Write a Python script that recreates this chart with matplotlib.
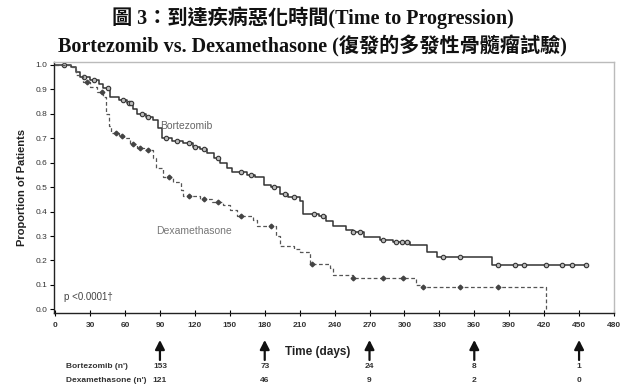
import numpy as np
import matplotlib
matplotlib.use("Agg")
import matplotlib.pyplot as plt
import matplotlib.transforms as mtrans

# ---------------- data ----------------
bort_t = [0, 14, 18, 21, 30, 38, 41, 47, 55, 62, 67, 70, 78, 84, 88, 92, 100, 110, 118, 124,
          130, 136, 142, 148, 152, 165, 172, 179, 185, 193, 200, 210, 213, 227, 233, 239,
          250, 256, 265, 279, 290, 305, 319, 328, 375, 456]
bort_s = [1.0, 0.99, 0.97, 0.95, 0.94, 0.92, 0.905, 0.87, 0.855, 0.845, 0.82, 0.80, 0.785,
          0.775, 0.74, 0.70, 0.69, 0.68, 0.665, 0.655, 0.64, 0.62, 0.60, 0.58, 0.56, 0.55,
          0.54, 0.51, 0.50, 0.47, 0.46, 0.445, 0.39, 0.38, 0.36, 0.34, 0.325, 0.315, 0.295,
          0.285, 0.275, 0.265, 0.235, 0.215, 0.18, 0.18]
bort_cens = [8, 25, 33, 45, 58, 63, 65, 75, 80, 95, 105, 115, 120, 128, 140, 160, 168,
             188, 197, 205, 222, 230, 256, 262, 282, 293, 298, 302, 333, 348, 380, 395,
             403, 422, 435, 444, 456]

dexa_t = [0, 14, 18, 24, 30, 36, 41, 44, 46, 48, 55, 59, 64, 70, 76, 84, 87, 93, 101, 108,
          110, 124, 135, 144, 150, 156, 170, 173, 190, 193, 205, 210, 219, 236, 239, 256,
          310, 313, 422, 422]
dexa_s = [1.0, 0.99, 0.96, 0.93, 0.91, 0.89, 0.87, 0.80, 0.75, 0.72, 0.71, 0.70, 0.675,
          0.66, 0.65, 0.62, 0.58, 0.54, 0.52, 0.49, 0.465, 0.453, 0.44, 0.425, 0.405, 0.38,
          0.365, 0.34, 0.30, 0.26, 0.245, 0.235, 0.185, 0.17, 0.14, 0.13, 0.10, 0.09, 0.0, 0.0]
dexa_cens = [27, 40, 52, 57, 67, 73, 80, 98, 115, 128, 140, 160, 185, 221, 256, 282,
             299, 316, 348, 380]

xticks = [0, 30, 60, 90, 120, 150, 180, 210, 240, 270, 300, 330, 360, 390, 420, 450, 480]
yticks = [0.0, 0.1, 0.2, 0.3, 0.4, 0.5, 0.6, 0.7, 0.8, 0.9, 1.0]

risk_days = [90, 180, 270, 360, 450]
risk_bort = [153, 73, 24, 8, 1]
risk_dexa = [121, 46, 9, 2, 0]

title1 = "圖 3：到達疾病惡化時間(Time to Progression)"
title2 = "Bortezomib vs. Dexamethasone (復發的多發性骨髓瘤試驗)"

# ---------------- figure ----------------
W, H = 625, 389
fig = plt.figure(figsize=(W / 100, H / 100), dpi=100)
ax = fig.add_axes([54 / W, 1 - 313 / H, (614 - 54) / W, (313 - 62) / H])

sans = ["Liberation Sans", "DejaVu Sans"]
title_font = ["Liberation Serif", "Noto Sans CJK TC", "DejaVu Sans"]

def surv_at(t_list, s_list, t):
    i = np.searchsorted(np.array(t_list), t, side="right") - 1
    return s_list[max(i, 0)]

col = "#333333"
ax.step(bort_t, bort_s, where="post", color=col, lw=1.1)
ax.plot(bort_cens, [surv_at(bort_t, bort_s, c) for c in bort_cens], "o",
        ms=3.2, mfc="#bbbbbb", mec=col, mew=0.8, ls="none")

ax.step(dexa_t, dexa_s, where="post", color="#555555", lw=0.9, ls=(0, (3, 2)))
ax.plot(dexa_cens, [surv_at(dexa_t, dexa_s, c) for c in dexa_cens], "D",
        ms=2.4, color="#444444", ls="none")

ax.set_xlim(-1, 480)
ax.set_ylim(-0.015, 1.012)
ax.set_xticks(xticks)
ax.set_xticklabels([str(v) for v in xticks], fontsize=6, family=sans,
                   fontweight="bold", color="#333333")
ax.set_yticks(yticks)
ax.set_yticklabels([f"{v:.1f}" for v in yticks], fontsize=6, family=sans,
                   color="#333333")
ax.tick_params(axis="x", direction="inout", length=5, width=0.8, pad=4)
ax.tick_params(axis="y", direction="out", length=3, width=0.8, pad=2)

for s in ["left", "bottom"]:
    ax.spines[s].set_color("#222222")
    ax.spines[s].set_linewidth(1.0)
for s in ["top", "right"]:
    ax.spines[s].set_color("#bbbbbb")
    ax.spines[s].set_linewidth(1.0)

ax.set_ylabel("Proportion of Patients", fontsize=8, fontweight="bold",
              family=sans, color="#222222", labelpad=6)

ax.text(90, 0.75, "Bortezomib", fontsize=7.5, family=sans, color="#666666",
        va="center", ha="left")
ax.text(87, 0.32, "Dexamethasone", fontsize=7.5, family=sans, color="#777777",
        va="center", ha="left")
ax.text(8, 0.05, "p <0.0001\u2020", fontsize=7, family=sans, color="#444444",
        va="center", ha="left")

# x label
fig.text(318 / W, 1 - 352 / H, "Time (days)", fontsize=8.5, fontweight="bold",
         family=sans, ha="center", va="center", color="#222222")

blend = mtrans.blended_transform_factory(ax.transData, fig.transFigure)

# arrows
for d in risk_days:
    ax.annotate("", xy=(d, 1 - 340 / H), xytext=(d, 1 - 360 / H),
                xycoords=blend, textcoords=blend,
                arrowprops=dict(arrowstyle="-|>,head_length=0.55,head_width=0.28",
                                lw=1.6, color="#111111", shrinkA=0, shrinkB=0),
                annotation_clip=False)

# number at risk
fig.text(66 / W, 1 - 367 / H, "Bortezomib (n')", fontsize=6, family=sans,
         ha="left", va="center", color="#333333", fontweight="bold")
fig.text(66 / W, 1 - 381 / H, "Dexamethasone (n')", fontsize=6, family=sans,
         ha="left", va="center", color="#333333", fontweight="bold")
for d, b, x in zip(risk_days, risk_bort, risk_dexa):
    ax.text(d, 1 - 367 / H, str(b), transform=blend, fontsize=6, family=sans,
            ha="center", va="center", color="#333333", fontweight="bold")
    ax.text(d, 1 - 381 / H, str(x), transform=blend, fontsize=6, family=sans,
            ha="center", va="center", color="#333333", fontweight="bold")

# titles
fig.text(0.5, 1 - 18 / H, title1, fontsize=14.5, fontweight="bold", family=title_font,
         ha="center", va="center", color="#111111")
fig.text(0.5, 1 - 46 / H, title2, fontsize=14.5, fontweight="bold", family=title_font,
         ha="center", va="center", color="#111111")

fig.savefig("out.png", dpi=100)
